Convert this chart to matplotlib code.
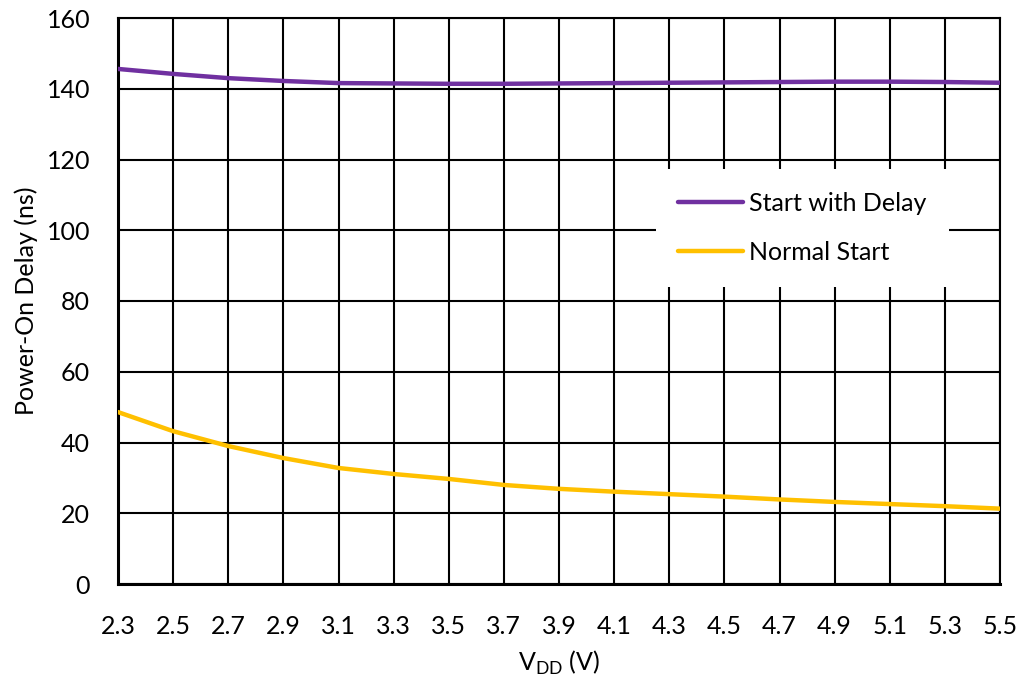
import matplotlib
matplotlib.use("Agg")
import matplotlib.pyplot as plt

plt.rcParams["font.family"] = ["Lato", "DejaVu Sans"]

# VDD sweep (V)
vdd = [2.3, 2.5, 2.7, 2.9, 3.1, 3.3, 3.5, 3.7, 3.9, 4.1, 4.3, 4.5, 4.7, 4.9, 5.1, 5.3, 5.5]

# power-on delay (ns)
delay_start = [145.6, 144.2, 143.0, 142.2, 141.6, 141.5, 141.4, 141.4, 141.5, 141.6,
               141.7, 141.8, 141.9, 142.0, 142.0, 141.9, 141.7]
normal_start = [48.6, 43.2, 39.0, 35.6, 32.8, 31.1, 29.7, 28.0, 26.9, 26.1,
                25.4, 24.7, 23.9, 23.2, 22.6, 22.0, 21.3]

y_ticks = [0, 20, 40, 60, 80, 100, 120, 140, 160]

fig = plt.figure(figsize=(10.2, 6.83), dpi=100)
ax = fig.add_axes([118 / 1020, 1 - 584 / 683, 882 / 1020, 566 / 683])

ax.plot(vdd, delay_start, color="#7030A0", lw=3.2, label="Start with Delay",
        solid_capstyle="round", zorder=3)
ax.plot(vdd, normal_start, color="#FFC000", lw=3.2, label="Normal Start",
        solid_capstyle="round", zorder=3)

ax.set_xlim(2.3, 5.5)
ax.set_ylim(0, 160)
ax.set_xticks(vdd)
ax.set_xticklabels([f"{v:.1f}" for v in vdd])
ax.set_yticks(y_ticks)
ax.grid(True, color="black", lw=1.5)
ax.set_axisbelow(True)
ax.tick_params(length=0, labelsize=18)
ax.tick_params(axis="y", pad=20)
ax.tick_params(axis="x", pad=22)
for s in ax.spines.values():
    s.set_linewidth(1.5)
ax.spines["left"].set_linewidth(2.2)
ax.spines["bottom"].set_linewidth(2.2)

ax.set_xlabel("V$_{\\mathregular{DD}}$ (V)", fontsize=18, labelpad=8)
ax.set_ylabel("Power-On Delay (ns)", fontsize=18, labelpad=6)

leg = ax.legend(loc="center", bbox_to_anchor=(0.776, 0.629), fontsize=18,
                frameon=True, fancybox=False, edgecolor="white", framealpha=1,
                handlelength=2.6, handletextpad=0.25, labelspacing=1.05,
                borderpad=0.9)
leg.get_frame().set_linewidth(0)

fig.savefig("out.png", dpi=100)
